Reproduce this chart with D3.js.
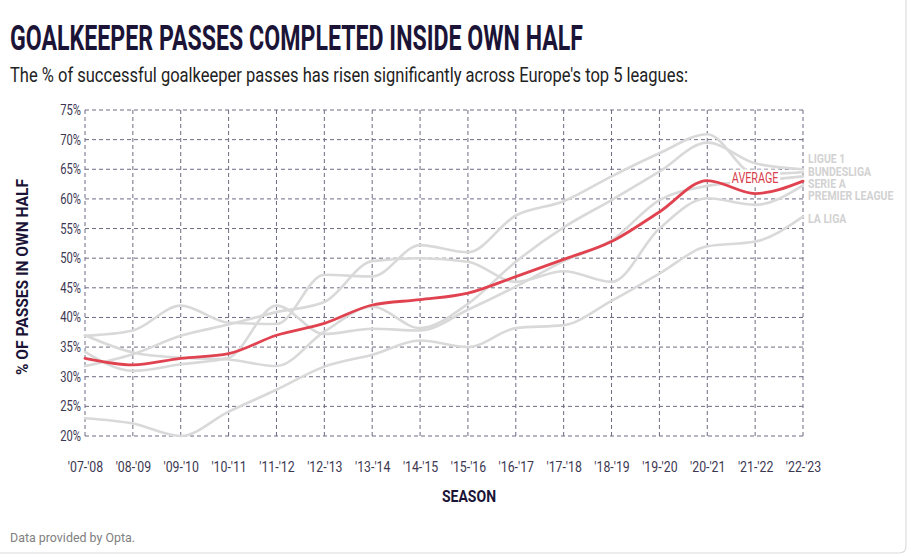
<!DOCTYPE html>
<html>
<head>
<meta charset="utf-8">
<script src="https://cdn.jsdelivr.net/npm/d3@7"></script>
<style>
  html, body { margin: 0; padding: 0; background: #fff; }
  svg { display: block; }
  text { font-family: Roboto, "Noto Sans", "DejaVu Sans", sans-serif; }
</style>
</head>
<body>
<script>
// ---------------- data ----------------
const seasons = ["'07-'08","'08-'09","'09-'10","'10-'11","'11-'12","'12-'13","'13-'14","'14-'15",
                 "'15-'16","'16-'17","'17-'18","'18-'19","'19-'20","'20-'21","'21-'22","'22-'23"];
const average       = [33.1, 32.0, 33.1, 33.9, 37.0, 39.0, 42.1, 43.0, 44.1, 46.9, 49.8, 52.8, 57.8, 63.1, 60.9, 63.0];
const ligue1        = [37.0, 34.1, 33.2, 32.9, 31.8, 37.6, 41.8, 38.2, 42.3, 49.4, 55.2, 59.8, 64.6, 69.5, 66.0, 65.0];
const bundesliga    = [36.9, 37.8, 42.0, 39.1, 38.9, 47.2, 46.9, 52.2, 51.0, 57.2, 59.6, 63.8, 67.7, 70.9, 64.2, 64.5];
const serieA        = [34.2, 31.0, 32.1, 33.2, 42.0, 37.2, 38.1, 37.8, 41.3, 45.2, 49.5, 53.0, 59.8, 62.2, 63.0, 63.8];
const premierLeague = [31.8, 33.8, 36.9, 38.8, 40.9, 42.6, 49.5, 50.0, 49.4, 46.0, 47.8, 46.0, 55.0, 60.1, 59.0, 62.3];
const laLiga        = [23.0, 22.1, 20.0, 24.1, 27.8, 31.7, 33.7, 36.1, 35.0, 38.2, 38.7, 42.8, 47.4, 52.0, 52.8, 57.0];
const leagueNames   = ["LIGUE 1", "BUNDESLIGA", "SERIE A", "PREMIER LEAGUE", "LA LIGA"];
const yTicks        = [20, 25, 30, 35, 40, 45, 50, 55, 60, 65, 70, 75];

const leagues = [ligue1, bundesliga, serieA, premierLeague, laLiga];

// ---------------- layout ----------------
const W = 911, H = 557;
const svg = d3.select("body").append("svg").attr("width", W).attr("height", H);

const x = d3.scalePoint().domain(seasons).range([85, 803]);
const y = d3.scaleLinear().domain([20, 75]).range([436, 110]);

const navy = "#1b1437";
const gridCol = "#6f6a82";

// card edge
svg.append("path")
  .attr("d", "M0,553 H899 Q906,553 906,546 V0")
  .attr("fill", "none").attr("stroke", "#dcdcdc").attr("stroke-width", 1.2);

// title
svg.append("text")
  .attr("x", 10).attr("y", 50)
  .attr("textLength", 573).attr("lengthAdjust", "spacingAndGlyphs")
  .attr("font-size", 35).attr("font-weight", 700).attr("fill", navy)
  .text("GOALKEEPER PASSES COMPLETED INSIDE OWN HALF");

svg.append("text")
  .attr("x", 10).attr("y", 82)
  .attr("textLength", 678).attr("lengthAdjust", "spacingAndGlyphs")
  .attr("font-size", 20).attr("font-weight", 400).attr("fill", "#222")
  .text("The % of successful goalkeeper passes has risen significantly across Europe's top 5 leagues:");

// grid
const grid = svg.append("g");
grid.selectAll("line.h").data(yTicks).join("line")
  .attr("x1", x(seasons[0])).attr("x2", x(seasons[seasons.length - 1]))
  .attr("y1", d => y(d)).attr("y2", d => y(d))
  .attr("stroke", gridCol).attr("stroke-width", 1).attr("stroke-dasharray", "4,3");
grid.selectAll("line.v").data(seasons).join("line")
  .attr("x1", d => x(d)).attr("x2", d => x(d))
  .attr("y1", y(75)).attr("y2", y(20))
  .attr("stroke", gridCol).attr("stroke-width", 1).attr("stroke-dasharray", "4,3");

// axes (labels only)
const yAxis = svg.append("g").attr("transform", `translate(${x(seasons[0]) - 4},0)`)
  .call(d3.axisLeft(y).tickValues(yTicks).tickSize(0).tickPadding(0).tickFormat(d => d + "%"));
yAxis.select(".domain").remove();
yAxis.selectAll("text")
  .attr("font-size", 14).attr("fill", "#3d3852")
  .attr("font-family", "Roboto, sans-serif")
  .attr("transform", "scale(0.8,1)");

const xAxis = svg.append("g").attr("transform", `translate(0,462)`)
  .call(d3.axisBottom(x).tickSize(0).tickPadding(0));
xAxis.select(".domain").remove();
xAxis.selectAll("text")
  .attr("font-size", 14).attr("fill", "#3d3852")
  .attr("font-family", "Roboto, sans-serif")
  .attr("transform", "scale(0.88,1)");

// axis titles
svg.append("text")
  .attr("transform", "translate(469,502)")
  .attr("text-anchor", "middle")
  .attr("font-size", 17).attr("font-weight", 700).attr("fill", navy)
  .attr("textLength", 54).attr("lengthAdjust", "spacingAndGlyphs")
  .text("SEASON");

svg.append("text")
  .attr("transform", "translate(28,277) rotate(-90)")
  .attr("text-anchor", "middle")
  .attr("font-size", 17).attr("font-weight", 700).attr("fill", navy)
  .attr("textLength", 196).attr("lengthAdjust", "spacingAndGlyphs")
  .text("% OF PASSES IN OWN HALF");

// lines
const line = d3.line()
  .x((d, i) => x(seasons[i]))
  .y(d => y(d))
  .curve(d3.curveMonotoneX);

svg.append("g").selectAll("path").data(leagues).join("path")
  .attr("d", d => line(d))
  .attr("fill", "none").attr("stroke", "#d9d9d9").attr("stroke-width", 2.6)
  .attr("stroke-linecap", "round");

// AVERAGE label (with white knock-out behind)
const ax = x(seasons[14]), ay = y(average[14]) - 11;
svg.append("rect")
  .attr("x", ax - 25).attr("y", ay - 13).attr("width", 50).attr("height", 16)
  .attr("fill", "#fff");
svg.append("text")
  .attr("transform", `translate(${ax},${ay}) scale(0.72,1)`)
  .attr("text-anchor", "middle")
  .attr("font-size", 15).attr("font-weight", 400).attr("fill", "#d8404c")
  .text("AVERAGE");

svg.append("path")
  .attr("d", line(average))
  .attr("fill", "none").attr("stroke", "#e0424f").attr("stroke-width", 2.8)
  .attr("stroke-linecap", "round");

// right-side league labels, de-overlapped from end values
const last = seasons.length - 1;
const labs = leagues.map((s, i) => ({ name: leagueNames[i], y: y(s[last]) }));
labs.sort((a, b) => a.y - b.y);
const gap = 12.3;
for (let it = 0; it < 200; it++) {
  for (let i = 1; i < labs.length; i++) {
    const d = labs[i].y - labs[i - 1].y;
    if (d < gap) {
      const m = (gap - d) / 2;
      labs[i - 1].y -= m; labs[i].y += m;
    }
  }
}
svg.append("g").selectAll("text").data(labs).join("text")
  .attr("transform", d => `translate(${x(seasons[last]) + 5},${d.y + 6}) scale(0.84,1)`)
  .attr("font-size", 12.5).attr("font-weight", 700).attr("fill", "#d2d2d2")
  .text(d => d.name);

// footnote
svg.append("text")
  .attr("transform", "translate(10,542) scale(0.92,1)")
  .attr("font-size", 13.5).attr("fill", "#808080")
  .text("Data provided by Opta.");
</script>
</body>
</html>
